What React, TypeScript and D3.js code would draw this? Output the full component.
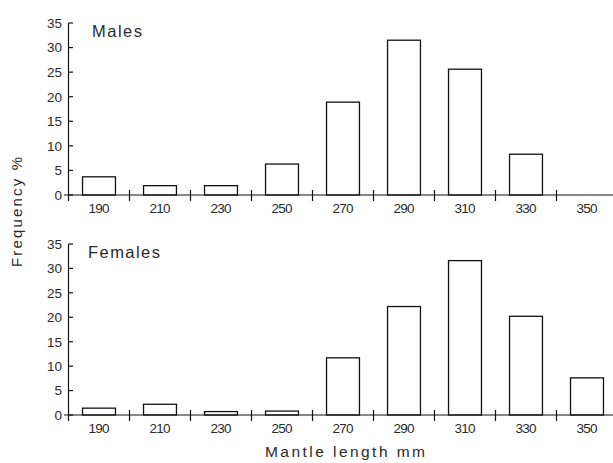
import React from "react";
import * as d3 from "d3";

const categories = ["190", "210", "230", "250", "270", "290", "310", "330", "350"];
const malesValues = [3.7, 1.9, 1.9, 6.3, 18.9, 31.5, 25.6, 8.3, 0];
const femalesValues = [1.4, 2.2, 0.7, 0.8, 11.7, 22.2, 31.6, 20.2, 7.6];
const yTicks = [0, 5, 10, 15, 20, 25, 30, 35];
const panelTitles = ["Males", "Females"];
const xTitle = "Mantle length mm";
const yTitle = "Frequency %";

const W = 613;
const H = 463;
const FONT = "'Liberation Sans', Arial, Helvetica, sans-serif";
const INK = "#111";
const TXT = "#2a2a2a";

const x = d3.scaleBand<string>().domain(categories).range([68.5, 617.5]).paddingInner(0.46).paddingOuter(0.23);
const step = x.step();

type PanelProps = { values: number[]; title: string; y0: number; y35: number; titleLen: number; titleX: number };

function Panel({ values, title, y0, y35, titleLen, titleX }: PanelProps) {
  const y = d3.scaleLinear().domain([0, 35]).range([y0, y35]);
  const axisX = 68.5;
  const boundaries = categories.slice(1).map((c) => (x(c) as number) - (step - x.bandwidth()) / 2);
  return (
    <g>
      {categories.map((c, i) => (
        <rect
          key={c}
          x={x(c)}
          y={y(values[i])}
          width={x.bandwidth()}
          height={y(0) - y(values[i])}
          fill="#fff"
          stroke={INK}
          strokeWidth={1.3}
        />
      ))}
      <line x1={64} x2={W} y1={y(0)} y2={y(0)} stroke={INK} strokeWidth={1.2} />
      {boundaries.map((b, i) => (
        <line key={i} x1={b} x2={b} y1={y(0) - 5} y2={y(0) + 6} stroke={INK} strokeWidth={1.2} />
      ))}
      {categories.map((c) => (
        <text
          key={c}
          x={(x(c) as number) + x.bandwidth() / 2}
          y={y(0) + 18}
          textAnchor="middle"
          fontSize={13.5}
          fontFamily={FONT}
          fill={TXT}
          textLength={21}
          lengthAdjust="spacing"
        >
          {c}
        </text>
      ))}
      <line x1={axisX} x2={axisX} y1={y(35)} y2={y(0) + 6} stroke={INK} strokeWidth={1.2} />
      {yTicks.map((t) => (
        <g key={t}>
          <line x1={axisX} x2={axisX + 4.5} y1={y(t)} y2={y(t)} stroke={INK} strokeWidth={1.2} />
          <text
            x={62}
            y={y(t)}
            dy="0.36em"
            textAnchor="end"
            fontSize={13.5}
            fontFamily={FONT}
            fill={TXT}
          >
            {t}
          </text>
        </g>
      ))}
      <text
        x={titleX}
        y={y(35) + 13.5}
        fontSize={16.5}
        fontFamily={FONT}
        fill={TXT}
        textLength={titleLen}
        lengthAdjust="spacing"
      >
        {title}
      </text>
    </g>
  );
}

export default function App() {
  return (
    <svg width={W} height={H} style={{ position: "absolute", left: 0, top: 0, background: "#fff" }}>
      <Panel values={malesValues} title={panelTitles[0]} y0={195} y35={23} titleLen={50} titleX={92} />
      <Panel values={femalesValues} title={panelTitles[1]} y0={415} y35={244} titleLen={72} titleX={88} />
      <text
        x={345}
        y={457}
        textAnchor="middle"
        fontSize={15.5}
        fontFamily={FONT}
        fill={TXT}
        textLength={160}
        lengthAdjust="spacing"
      >
        {xTitle}
      </text>
      <text
        transform="translate(22,212) rotate(-90)"
        textAnchor="middle"
        fontSize={15}
        fontFamily={FONT}
        fill={TXT}
        textLength={110}
        lengthAdjust="spacing"
      >
        {yTitle}
      </text>
    </svg>
  );
}
